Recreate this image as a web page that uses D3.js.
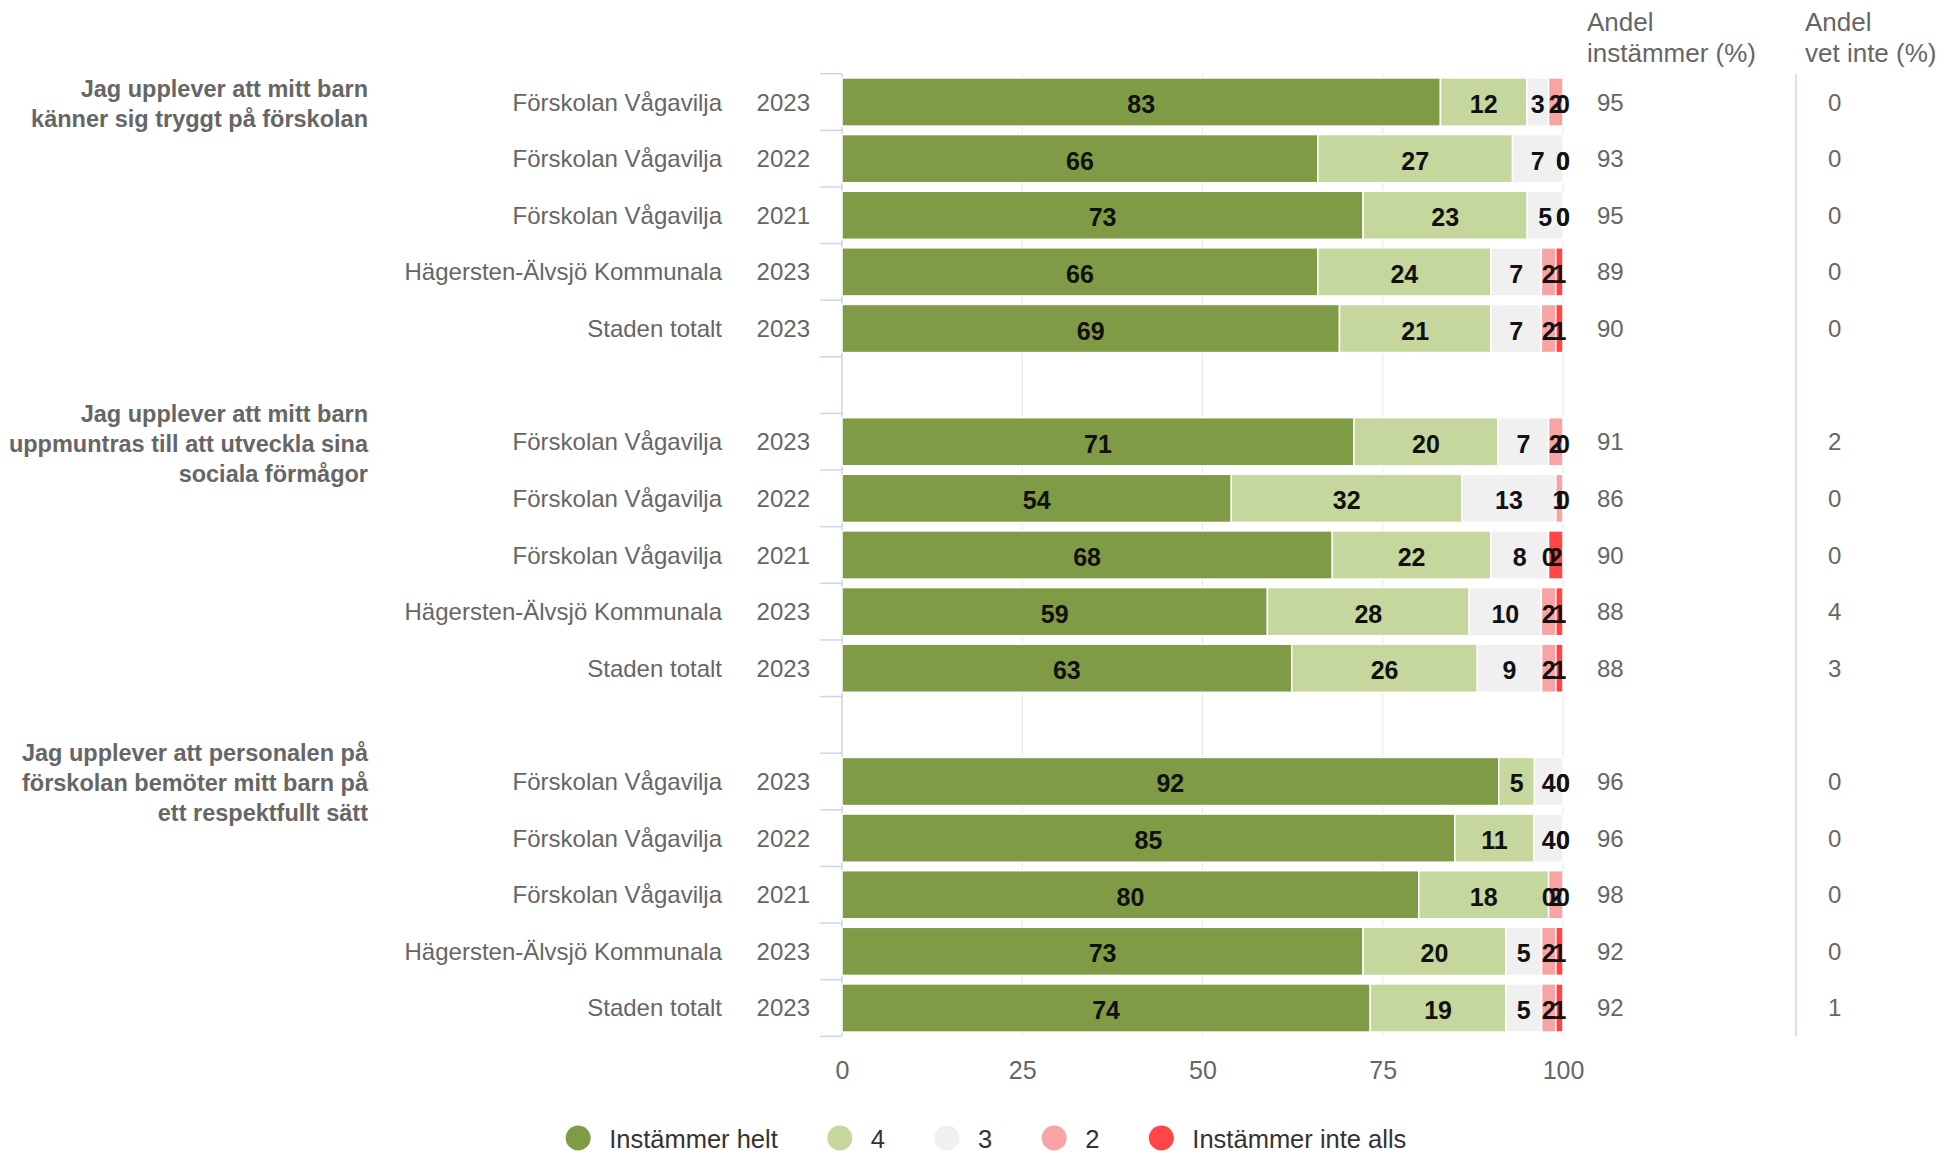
<!DOCTYPE html>
<html>
<head>
<meta charset="utf-8">
<script src="https://cdn.jsdelivr.net/npm/d3@7"></script>
<style>
  body { margin: 0; background: #fff; }
  text { font-family: "Liberation Sans", Arial, sans-serif; }
</style>
</head>
<body>
<svg id="chart" width="1957" height="1155"></svg>
<script>
// Frågor (en per grupp), radetiketter och år
const questions = [
  ["Jag upplever att mitt barn", "känner sig tryggt på förskolan"],
  ["Jag upplever att mitt barn", "uppmuntras till att utveckla sina", "sociala förmågor"],
  ["Jag upplever att personalen på", "förskolan bemöter mitt barn på", "ett respektfullt sätt"]
];
const units = ["Förskolan Vågavilja", "Förskolan Vågavilja", "Förskolan Vågavilja", "Hägersten-Älvsjö Kommunala", "Staden totalt"];
const years = ["2023", "2022", "2021", "2023", "2023"];

// Serier (15 rader: 3 frågor x 5 rader)
const seriesNames = ["Instämmer helt", "4", "3", "2", "Instämmer inte alls"];
const helt      = [83, 66, 73, 66, 69,  71, 54, 68, 59, 63,  92, 85, 80, 73, 74];
const fyra      = [12, 27, 23, 24, 21,  20, 32, 22, 28, 26,   5, 11, 18, 20, 19];
const tre       = [ 3,  7,  5,  7,  7,   7, 13,  8, 10,  9,   4,  4,  0,  5,  5];
const tva       = [ 2,  0,  0,  2,  2,   2,  1,  0,  2,  2,   0,  0,  2,  2,  2];
const inteAlls  = [ 0,  0,  0,  1,  1,   0,  0,  2,  1,  1,   0,  0,  0,  1,  1];
const andelInstammer = [95, 93, 95, 89, 90,  91, 86, 90, 88, 88,  96, 96, 98, 92, 92];
const andelVetInte   = [ 0,  0,  0,  0,  0,   2,  0,  0,  4,  3,   0,  0,  0,  0,  1];
const xTicks = [0, 25, 50, 75, 100];

const colors = ["#809b45", "#c5d79c", "#f0f0f0", "#f8a4a4", "#ff4545"];
const series = [helt, fyra, tre, tva, inteAlls];

const svg = d3.select("#chart");

// Rader inklusive tomma luckor mellan grupperna
const slots = [];
questions.forEach((q, g) => {
  units.forEach((u, r) => slots.push({ key: g + "-" + r, g: g, r: r, i: g * 5 + r }));
  if (g < questions.length - 1) slots.push({ key: "gap" + g, gap: true });
});
const rows = slots.filter(d => !d.gap);

const plotTop = 73.7, plotBottom = 1036.3;
const y = d3.scaleBand()
  .domain(slots.map(d => d.key))
  .range([plotTop, plotBottom])
  .paddingInner(0.15)
  .paddingOuter(0.075);
const x = d3.scaleLinear().domain([0, 100]).range([842, 1563]);

// Rutnät
svg.append("g").selectAll("line")
  .data(xTicks)
  .enter().append("line")
  .attr("x1", d => x(d)).attr("x2", d => x(d))
  .attr("y1", plotTop).attr("y2", plotBottom)
  .attr("stroke", "#e6e6e6").attr("stroke-width", 1);

// Y-axel med streck mellan kategorierna
const yAxis = svg.append("g");
yAxis.append("line")
  .attr("x1", 842).attr("x2", 842).attr("y1", plotTop).attr("y2", plotBottom)
  .attr("stroke", "#ccd6eb").attr("stroke-width", 1.5);
yAxis.selectAll("line.tick")
  .data(d3.range(slots.length + 1))
  .enter().append("line")
  .attr("class", "tick")
  .attr("x1", 820).attr("x2", 842)
  .attr("y1", i => plotTop + i * y.step()).attr("y2", i => plotTop + i * y.step())
  .attr("stroke", "#ccd6eb").attr("stroke-width", 1.5);

// X-axel
svg.append("g")
  .attr("transform", `translate(0, ${plotBottom})`)
  .call(d3.axisBottom(x).tickValues(xTicks).tickSize(0).tickPadding(25))
  .call(g => g.select(".domain").remove())
  .selectAll("text")
  .attr("fill", "#666").attr("font-size", 25)
  .attr("font-family", "Liberation Sans, Arial, sans-serif");

// Staplade segment (procent-stapling)
const stacked = rows.map(row => {
  const vals = series.map(s => s[row.i]);
  const total = d3.sum(vals);
  let acc = 0;
  return vals.map((v, k) => {
    const seg = { row: row, k: k, v: v, x0: acc / total * 100 };
    acc += v;
    seg.x1 = acc / total * 100;
    return seg;
  });
}).flat();

svg.append("g").selectAll("rect")
  .data(stacked.filter(d => d.v > 0))
  .enter().append("rect")
  .attr("x", d => x(d.x0))
  .attr("width", d => x(d.x1) - x(d.x0))
  .attr("y", d => y(d.row.key))
  .attr("height", y.bandwidth())
  .attr("fill", d => colors[d.k])
  .attr("stroke", "#fff").attr("stroke-width", 1.5);

svg.append("g").selectAll("text")
  .data(stacked)
  .enter().append("text")
  .attr("x", d => (x(d.x0) + x(d.x1)) / 2)
  .attr("y", d => y(d.row.key) + y.bandwidth() / 2 + 11)
  .attr("text-anchor", "middle")
  .attr("font-size", 25).attr("font-weight", "bold")
  .attr("fill", "#111")
  .text(d => d.v);

// Radetiketter
const labels = svg.append("g").attr("fill", "#666").attr("font-size", 24);
labels.selectAll("text.unit")
  .data(rows).enter().append("text")
  .attr("class", "unit")
  .attr("x", 722).attr("y", d => y(d.key) + y.bandwidth() / 2 + 8.5)
  .attr("text-anchor", "end")
  .text(d => units[d.r]);
labels.selectAll("text.year")
  .data(rows).enter().append("text")
  .attr("class", "year")
  .attr("x", 810).attr("y", d => y(d.key) + y.bandwidth() / 2 + 8.5)
  .attr("text-anchor", "end")
  .text(d => years[d.r]);

// Frågetexter, centrerade på gruppens första rad
questions.forEach((q, g) => {
  const cy = y(g + "-0") + y.bandwidth() / 2;
  const t = svg.append("text")
    .attr("x", 368).attr("text-anchor", "end")
    .attr("font-size", 23.5).attr("font-weight", "bold").attr("fill", "#666");
  q.forEach((line, j) => {
    t.append("tspan")
      .attr("x", 368)
      .attr("y", cy + 10 + (j - (q.length - 1) / 2) * 30)
      .text(line);
  });
});

// Högerkolumner
const colHeads = [
  { x: 1587, lines: ["Andel", "instämmer (%)"] },
  { x: 1805, lines: ["Andel", "vet inte (%)"] }
];
colHeads.forEach(h => {
  h.lines.forEach((line, j) => {
    svg.append("text")
      .attr("x", h.x).attr("y", 31 + j * 31)
      .attr("font-size", 26).attr("fill", "#666")
      .text(line);
  });
});
svg.append("line")
  .attr("x1", 1796).attr("x2", 1796).attr("y1", plotTop).attr("y2", plotBottom)
  .attr("stroke", "#ccd6eb").attr("stroke-width", 1.5);

const cols = svg.append("g").attr("fill", "#666").attr("font-size", 24);
cols.selectAll("text.inst")
  .data(rows).enter().append("text")
  .attr("class", "inst")
  .attr("x", 1597).attr("y", d => y(d.key) + y.bandwidth() / 2 + 8.5)
  .text(d => andelInstammer[d.i]);
cols.selectAll("text.vet")
  .data(rows).enter().append("text")
  .attr("class", "vet")
  .attr("x", 1828).attr("y", d => y(d.key) + y.bandwidth() / 2 + 8.5)
  .text(d => andelVetInte[d.i]);

// Teckenförklaring
const legend = svg.append("g");
let lx = 0;
seriesNames.forEach((name, k) => {
  const item = legend.append("g").attr("transform", `translate(${lx}, 0)`);
  item.append("circle").attr("cx", 0).attr("cy", 0).attr("r", 12.5).attr("fill", colors[k]);
  const t = item.append("text")
    .attr("x", 31).attr("y", 9.5)
    .attr("font-size", 25.5).attr("fill", "#333")
    .text(name);
  lx += 31 + t.node().getComputedTextLength() + 62;
});
const legendWidth = lx - 62 + 12.5;
legend.attr("transform", `translate(${986 - legendWidth / 2 + 12.5}, 1138)`);
</script>
</body>
</html>
